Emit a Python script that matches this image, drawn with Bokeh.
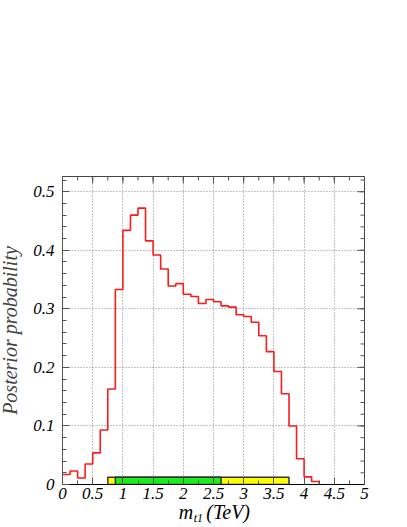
import math
from bokeh.plotting import figure
from bokeh.layouts import column
from bokeh.models import FixedTicker, Range1d
from bokeh.core.properties import value
from bokeh.embed import file_html
from bokeh.resources import INLINE

# ---- data ----
bin_edges = [0.0, 0.125, 0.25, 0.375, 0.5, 0.625, 0.75, 0.875, 1.0, 1.125,
             1.25, 1.375, 1.5, 1.625, 1.75, 1.875, 2.0, 2.125, 2.25, 2.375,
             2.5, 2.625, 2.75, 2.875, 3.0, 3.125, 3.25, 3.375, 3.5, 3.625,
             3.75, 3.875, 4.0, 4.125, 4.25, 4.375, 4.5, 4.625, 4.75, 4.875, 5.0]
posterior = [0.017, 0.023, 0.011, 0.035, 0.054, 0.093, 0.163, 0.333, 0.434, 0.460,
             0.472, 0.416, 0.392, 0.368, 0.339, 0.343, 0.325, 0.321, 0.309, 0.316,
             0.312, 0.305, 0.303, 0.290, 0.287, 0.277, 0.254, 0.227, 0.193, 0.155,
             0.100, 0.044, 0.013, 0.005, 0.001, 0.0, 0.0, 0.0, 0.0, 0.0]
band_68 = [0.875, 2.625]   # green
band_95 = [0.75, 3.75]     # yellow
band_height = 0.0125

x_ticks = [0, 0.5, 1, 1.5, 2, 2.5, 3, 3.5, 4, 4.5, 5]
x_tick_labels = ["0", "0.5", "1", "1.5", "2", "2.5", "3", "3.5", "4", "4.5", "5"]
x_minor = [0, 0.25, 0.5, 0.75, 1, 1.25, 1.5, 1.75, 2, 2.25, 2.5, 2.75, 3, 3.25,
           3.5, 3.75, 4, 4.25, 4.5, 4.75, 5]
y_ticks = [0, 0.1, 0.2, 0.3, 0.4, 0.5]
y_tick_labels = ["0", "0.1", "0.2", "0.3", "0.4", "0.5"]
y_minor = [round(0.02 * k, 2) for k in range(27)]

X_MAX = 5.0
Y_MAX = 0.526
FONT = "Liberation Serif"
TICK_COL = "#555555"
LEFT = 61

p = figure(frame_width=306, frame_height=308, output_backend="svg",
           toolbar_location=None, x_range=Range1d(0, X_MAX), y_range=Range1d(0, Y_MAX),
           min_border_top=176, min_border_left=LEFT, min_border_right=20,
           min_border_bottom=26, background_fill_color="white",
           border_fill_color="white", margin=(0, 0, 0, -4))
p.outline_line_color = "#444444"

# grid
p.xgrid.ticker = FixedTicker(ticks=x_ticks)
p.ygrid.ticker = FixedTicker(ticks=y_ticks)
for g in (p.xgrid[0], p.ygrid[0]):
    g.grid_line_color = "#888888"
    g.grid_line_dash = "1 2"
    g.grid_line_width = 1

# histogram (step), empty bins left undrawn
step_y = [v if v > 0 else math.nan for v in posterior] + [math.nan]
p.step(x=bin_edges, y=step_y, mode="after", line_color="#ff1a1a", line_width=1.6)

# credible-interval bands
p.quad(left=[band_95[0]], right=[band_95[1]], bottom=[0], top=[band_height],
       fill_color="#ffff00", line_color="#333333", line_width=1.5)
p.quad(left=[band_68[0]], right=[band_68[1]], bottom=[0], top=[band_height],
       fill_color="#19f019", line_color="#333333", line_width=1.5)

# mirrored inward ticks on top and right edges (half of each dash clipped by frame)
p.scatter(x=x_ticks, y=[Y_MAX] * len(x_ticks), marker="dash", angle=math.pi / 2,
          size=14, line_color=TICK_COL, line_width=1)
p.scatter(x=x_minor, y=[Y_MAX] * len(x_minor), marker="dash", angle=math.pi / 2,
          size=8, line_color=TICK_COL, line_width=1)
p.scatter(x=[X_MAX] * len(y_ticks), y=y_ticks, marker="dash", angle=0,
          size=14, line_color=TICK_COL, line_width=1)
p.scatter(x=[X_MAX] * len(y_minor), y=y_minor, marker="dash", angle=0,
          size=8, line_color=TICK_COL, line_width=1)

def style_axis(ax, ticks, minor, labels, line_color):
    ax.ticker = FixedTicker(ticks=ticks, minor_ticks=minor)
    ax.major_label_overrides = {t: l for t, l in zip(ticks, labels)}
    ax.major_tick_in = 7
    ax.major_tick_out = 0
    ax.minor_tick_in = 4
    ax.minor_tick_out = 0
    ax.axis_line_color = line_color
    ax.major_tick_line_color = TICK_COL
    ax.minor_tick_line_color = TICK_COL
    ax.major_label_text_font = FONT
    ax.major_label_text_font_style = "italic"
    ax.major_label_text_color = "black"
    ax.major_label_text_font_size = "17px"

xa = p.xaxis[0]
ya = p.yaxis[0]
style_axis(xa, x_ticks, x_minor, x_tick_labels, "black")
style_axis(ya, y_ticks, y_minor, y_tick_labels, "#555555")
xa.major_label_standoff = 3
ya.major_label_standoff = 8
ya.axis_label = "Posterior probability"
ya.axis_label_text_font = FONT
ya.axis_label_text_font_style = "italic"
ya.axis_label_text_font_size = "20px"
ya.axis_label_standoff = 9

# x-axis title strip (overlaps bottom border of main plot, transparent)
p2 = figure(frame_width=306, frame_height=30, output_backend="svg",
            toolbar_location=None, x_range=p.x_range, y_range=Range1d(0, 30),
            min_border_top=0, min_border_left=LEFT, min_border_right=20,
            min_border_bottom=0, x_axis_location=None, y_axis_location=None,
            background_fill_color=None, border_fill_color=None,
            margin=(-14, 0, 0, -4))
p2.grid.visible = False
p2.outline_line_color = None
p2.text(x=[1.90], y=[14.1], text=["m"], text_font=value(FONT),
        text_font_style="italic", text_font_size="20px", text_baseline="alphabetic")
p2.text(x=[2.145], y=[8.1], text=["t1"], text_font=value(FONT),
        text_font_style="italic", text_font_size="12px", text_baseline="alphabetic")
p2.text(x=[2.35], y=[14.1], text=["(TeV)"], text_font=value(FONT),
        text_font_style="italic", text_font_size="20px", text_baseline="alphabetic")

layout = column(p, p2, spacing=0)
open("out.html", "w").write(file_html(layout, INLINE))
